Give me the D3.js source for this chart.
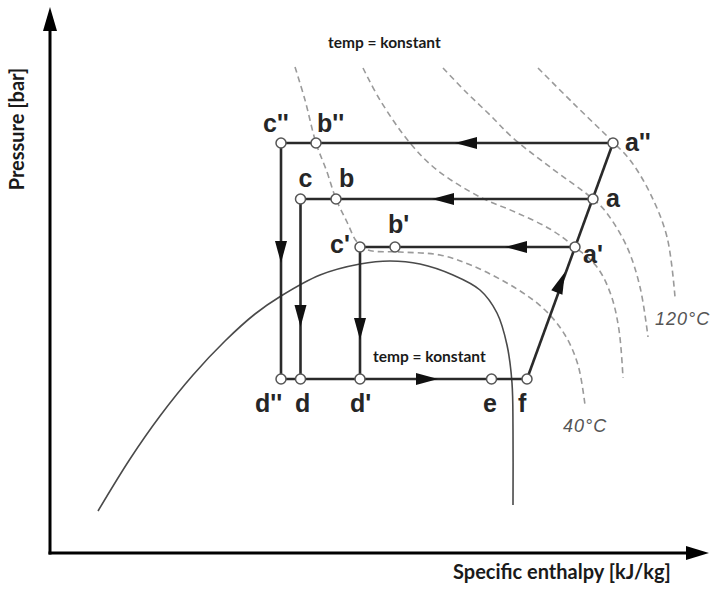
<!DOCTYPE html>
<html>
<head>
<meta charset="utf-8">
<script src="https://cdn.jsdelivr.net/npm/d3@7"></script>
<style>
  html, body { margin: 0; padding: 0; background: #fff; }
  svg { display: block; }
  .pt-label { font-family: "Liberation Sans Narrow", "Arial Narrow", "Liberation Sans", Arial, sans-serif; font-weight: bold; font-size: 25px; fill: #262626; }
  .note { font-family: Lato, "Open Sans", sans-serif; font-weight: bold; font-size: 15.5px; fill: #1a1a1a; }
  .axis-title { font-family: Lato, "Open Sans", sans-serif; font-weight: bold; font-size: 20px; fill: #1a1a1a; }
  .iso-label { font-family: "Liberation Sans", Arial, sans-serif; font-style: italic; font-size: 18px; fill: #555; letter-spacing: 1px; }
</style>
</head>
<body>
<svg id="chart" width="715" height="590"></svg>
<script>
// Pressure-enthalpy diagram of a refrigeration cycle at three condensing pressures.

// State points: [name, specific enthalpy (kJ/kg), pressure (bar)]
const statePoints = [
  ["c''", 192.4, 41.0], ["b''", 206.4, 41.0], ["a''", 325.2, 41.0],
  ["c", 200.2, 35.4],   ["b", 214.4, 35.4],   ["a", 317.2, 35.4],
  ["c'", 224.0, 30.6],  ["b'", 238.0, 30.6],  ["a'", 310.0, 30.6],
  ["d''", 192.4, 17.4], ["d", 200.2, 17.4],   ["d'", 224.0, 17.4],
  ["e", 276.6, 17.4],   ["f", 290.8, 17.4]
];

// Cycle segments drawn between named state points
const cycleSegments = [
  ["a''", "c''"], ["a", "c"], ["a'", "c'"],
  ["c''", "d''"], ["c", "d"], ["c'", "d'"],
  ["d''", "f"], ["f", "a''"]
];

// Saturation dome: [enthalpy, pressure]
const domeH = [119.2, 132.0, 144.0, 157.2, 170.0, 182.0, 192.4, 208.0, 224.0, 236.0, 248.0, 261.2, 272.0, 278.8, 282.8, 284.8, 285.2, 285.2];
const domeP = [4.2, 9.4, 13.7, 17.8, 21.2, 23.9, 25.7, 27.8, 28.9, 29.2, 28.9, 27.8, 26.3, 24.0, 20.8, 17.0, 12.3, 4.8];

// Isotherms (dashed), from 40 °C up to 120 °C
const iso40H  = [198.0, 202.0, 206.4, 210.8, 214.4, 218.8, 222.8, 227.2, 240.0, 256.0, 269.2, 286.8, 298.0, 306.0, 311.2, 314.0];
const iso40P  = [48.6, 45.3, 41.0, 38.1, 35.4, 33.1, 31.1, 30.3, 30.1, 29.8, 28.7, 26.4, 24.3, 21.8, 18.8, 14.8];
const isoBH   = [225.2, 232.0, 244.0, 254.8, 272.0, 286.0, 300.0, 310.0, 318.8, 324.4, 327.6, 329.2];
const isoBP   = [48.5, 45.3, 41.0, 38.3, 35.6, 34.1, 32.4, 30.6, 28.6, 25.8, 22.3, 17.5];
const isoCH   = [257.2, 266.8, 276.0, 285.2, 300.0, 317.2, 322.4, 330.8, 336.0, 339.2];
const isoCP   = [48.5, 46.0, 43.8, 41.5, 38.6, 35.4, 34.1, 30.6, 26.6, 21.6];
const iso120H = [295.2, 309.2, 325.2, 332.0, 340.0, 346.8, 350.0];
const iso120P = [48.5, 45.0, 41.1, 39.3, 36.0, 31.6, 25.6];

// Flow-direction arrows: tip [enthalpy, pressure] and the point the flow heads toward
const flowArrows = [
  [262.0, 41.0, "c''"], [252.8, 35.4, "c"], [282.0, 30.6, "c'"],
  [255.2, 17.4, "f"],   [306.0, 28.1, "a'"],
  [192.4, 29.0, "d''"], [200.2, 22.6, "d"], [224.0, 21.3, "d'"]
];

// Text
const isoLabels = ["40°C", "120°C"];
const noteText = "temp = konstant";
const xTitle = "Specific enthalpy [kJ/kg]";
const yTitle = "Pressure [bar]";

// ---- layout ----
const svg = d3.select("#chart");
const x = d3.scaleLinear().domain([100, 360]).range([50, 700]);
const y = d3.scaleLinear().domain([0, 55]).range([553, 3]);

const byName = new Map(statePoints.map(d => [d[0], d]));
const px = n => x(byName.get(n)[1]);
const py = n => y(byName.get(n)[2]);

// isotherms
const isoLine = d3.line().x(d => x(d[0])).y(d => y(d[1])).curve(d3.curveCatmullRom.alpha(0.5));
[[iso40H, iso40P], [isoBH, isoBP], [isoCH, isoCP], [iso120H, iso120P]].forEach(([hs, ps]) => {
  svg.append("path")
    .attr("d", isoLine(d3.zip(hs, ps)))
    .attr("fill", "none")
    .attr("stroke", "#9a9a9a")
    .attr("stroke-width", 1.6)
    .attr("stroke-dasharray", "6,4");
});

// saturation dome
svg.append("path")
  .attr("d", isoLine(d3.zip(domeH, domeP)))
  .attr("fill", "none")
  .attr("stroke", "#4a4a4a")
  .attr("stroke-width", 1.6);

// cycle lines
svg.append("g").selectAll("line").data(cycleSegments).join("line")
  .attr("x1", d => px(d[0])).attr("y1", d => py(d[0]))
  .attr("x2", d => px(d[1])).attr("y2", d => py(d[1]))
  .attr("stroke", "#2a2a2a")
  .attr("stroke-width", 2.6);

// flow arrows
const arrowLen = 22, arrowHalf = 6;
svg.append("g").selectAll("path").data(flowArrows).join("path")
  .attr("d", d => {
    const tx = x(d[0]), ty = y(d[1]);
    const hx = px(d[2]), hy = py(d[2]);
    let dx = hx - tx, dy = hy - ty;
    const len = Math.hypot(dx, dy) || 1;
    dx /= len; dy /= len;
    const bx = tx - dx * arrowLen, by = ty - dy * arrowLen;
    const nx = -dy * arrowHalf, ny = dx * arrowHalf;
    return `M${tx},${ty}L${bx + nx},${by + ny}L${bx - nx},${by - ny}Z`;
  })
  .attr("fill", "#111");

// state circles
svg.append("g").selectAll("circle").data(statePoints).join("circle")
  .attr("cx", d => x(d[1])).attr("cy", d => y(d[2]))
  .attr("r", 5)
  .attr("fill", "#fff")
  .attr("stroke", "#555")
  .attr("stroke-width", 1.5);

// state labels (offsets in px from the state point)
const labelOffset = {
  "c''": [-18, -11], "b''": [1, -11], "a''": [12, 8],
  "c": [-2, -12], "b": [3, -12], "a": [13, 8],
  "c'": [-30, 6], "b'": [-7, -14], "a'": [8, 16],
  "d''": [-26, 33], "d": [-5.5, 33], "d'": [-10, 33], "e": [-8.5, 33], "f": [-9, 33]
};
svg.append("g").selectAll("text").data(statePoints).join("text")
  .attr("class", "pt-label")
  .attr("x", d => x(d[1]) + labelOffset[d[0]][0])
  .attr("y", d => y(d[2]) + labelOffset[d[0]][1])
  .text(d => d[0]);

// isotherm labels
svg.append("text").attr("class", "iso-label")
  .attr("x", x(iso40H[iso40H.length - 1]) - 22).attr("y", y(iso40P[iso40P.length - 1]) + 27)
  .text(isoLabels[0]);
svg.append("text").attr("class", "iso-label")
  .attr("x", x(iso120H[iso120H.length - 1]) - 20).attr("y", y(iso120P[iso120P.length - 1]) + 28)
  .text(isoLabels[1]);

// "temp = konstant" notes
svg.append("text").attr("class", "note").attr("x", 328).attr("y", 48).text(noteText);
svg.append("text").attr("class", "note").attr("x", 373).attr("y", 362).text(noteText);

// axes with arrowheads
const x0 = x(100), yBase = y(0);
svg.append("line").attr("x1", x0).attr("y1", yBase + 1.5).attr("x2", x0).attr("y2", 26)
  .attr("stroke", "#000").attr("stroke-width", 3);
svg.append("path").attr("d", `M${x0},7L${x0 - 7},31L${x0 + 7},31Z`).attr("fill", "#000");
svg.append("line").attr("x1", x0 - 1.5).attr("y1", yBase).attr("x2", 690).attr("y2", yBase)
  .attr("stroke", "#000").attr("stroke-width", 3);
svg.append("path").attr("d", `M709,${yBase}L686,${yBase - 7}L686,${yBase + 7}Z`).attr("fill", "#000");

// axis titles
svg.append("text").attr("class", "axis-title")
  .attr("x", 453).attr("y", 579).text(xTitle);
svg.append("text").attr("class", "axis-title")
  .attr("transform", "translate(24,129) rotate(-90)")
  .attr("text-anchor", "middle")
  .text(yTitle);
</script>
</body>
</html>
